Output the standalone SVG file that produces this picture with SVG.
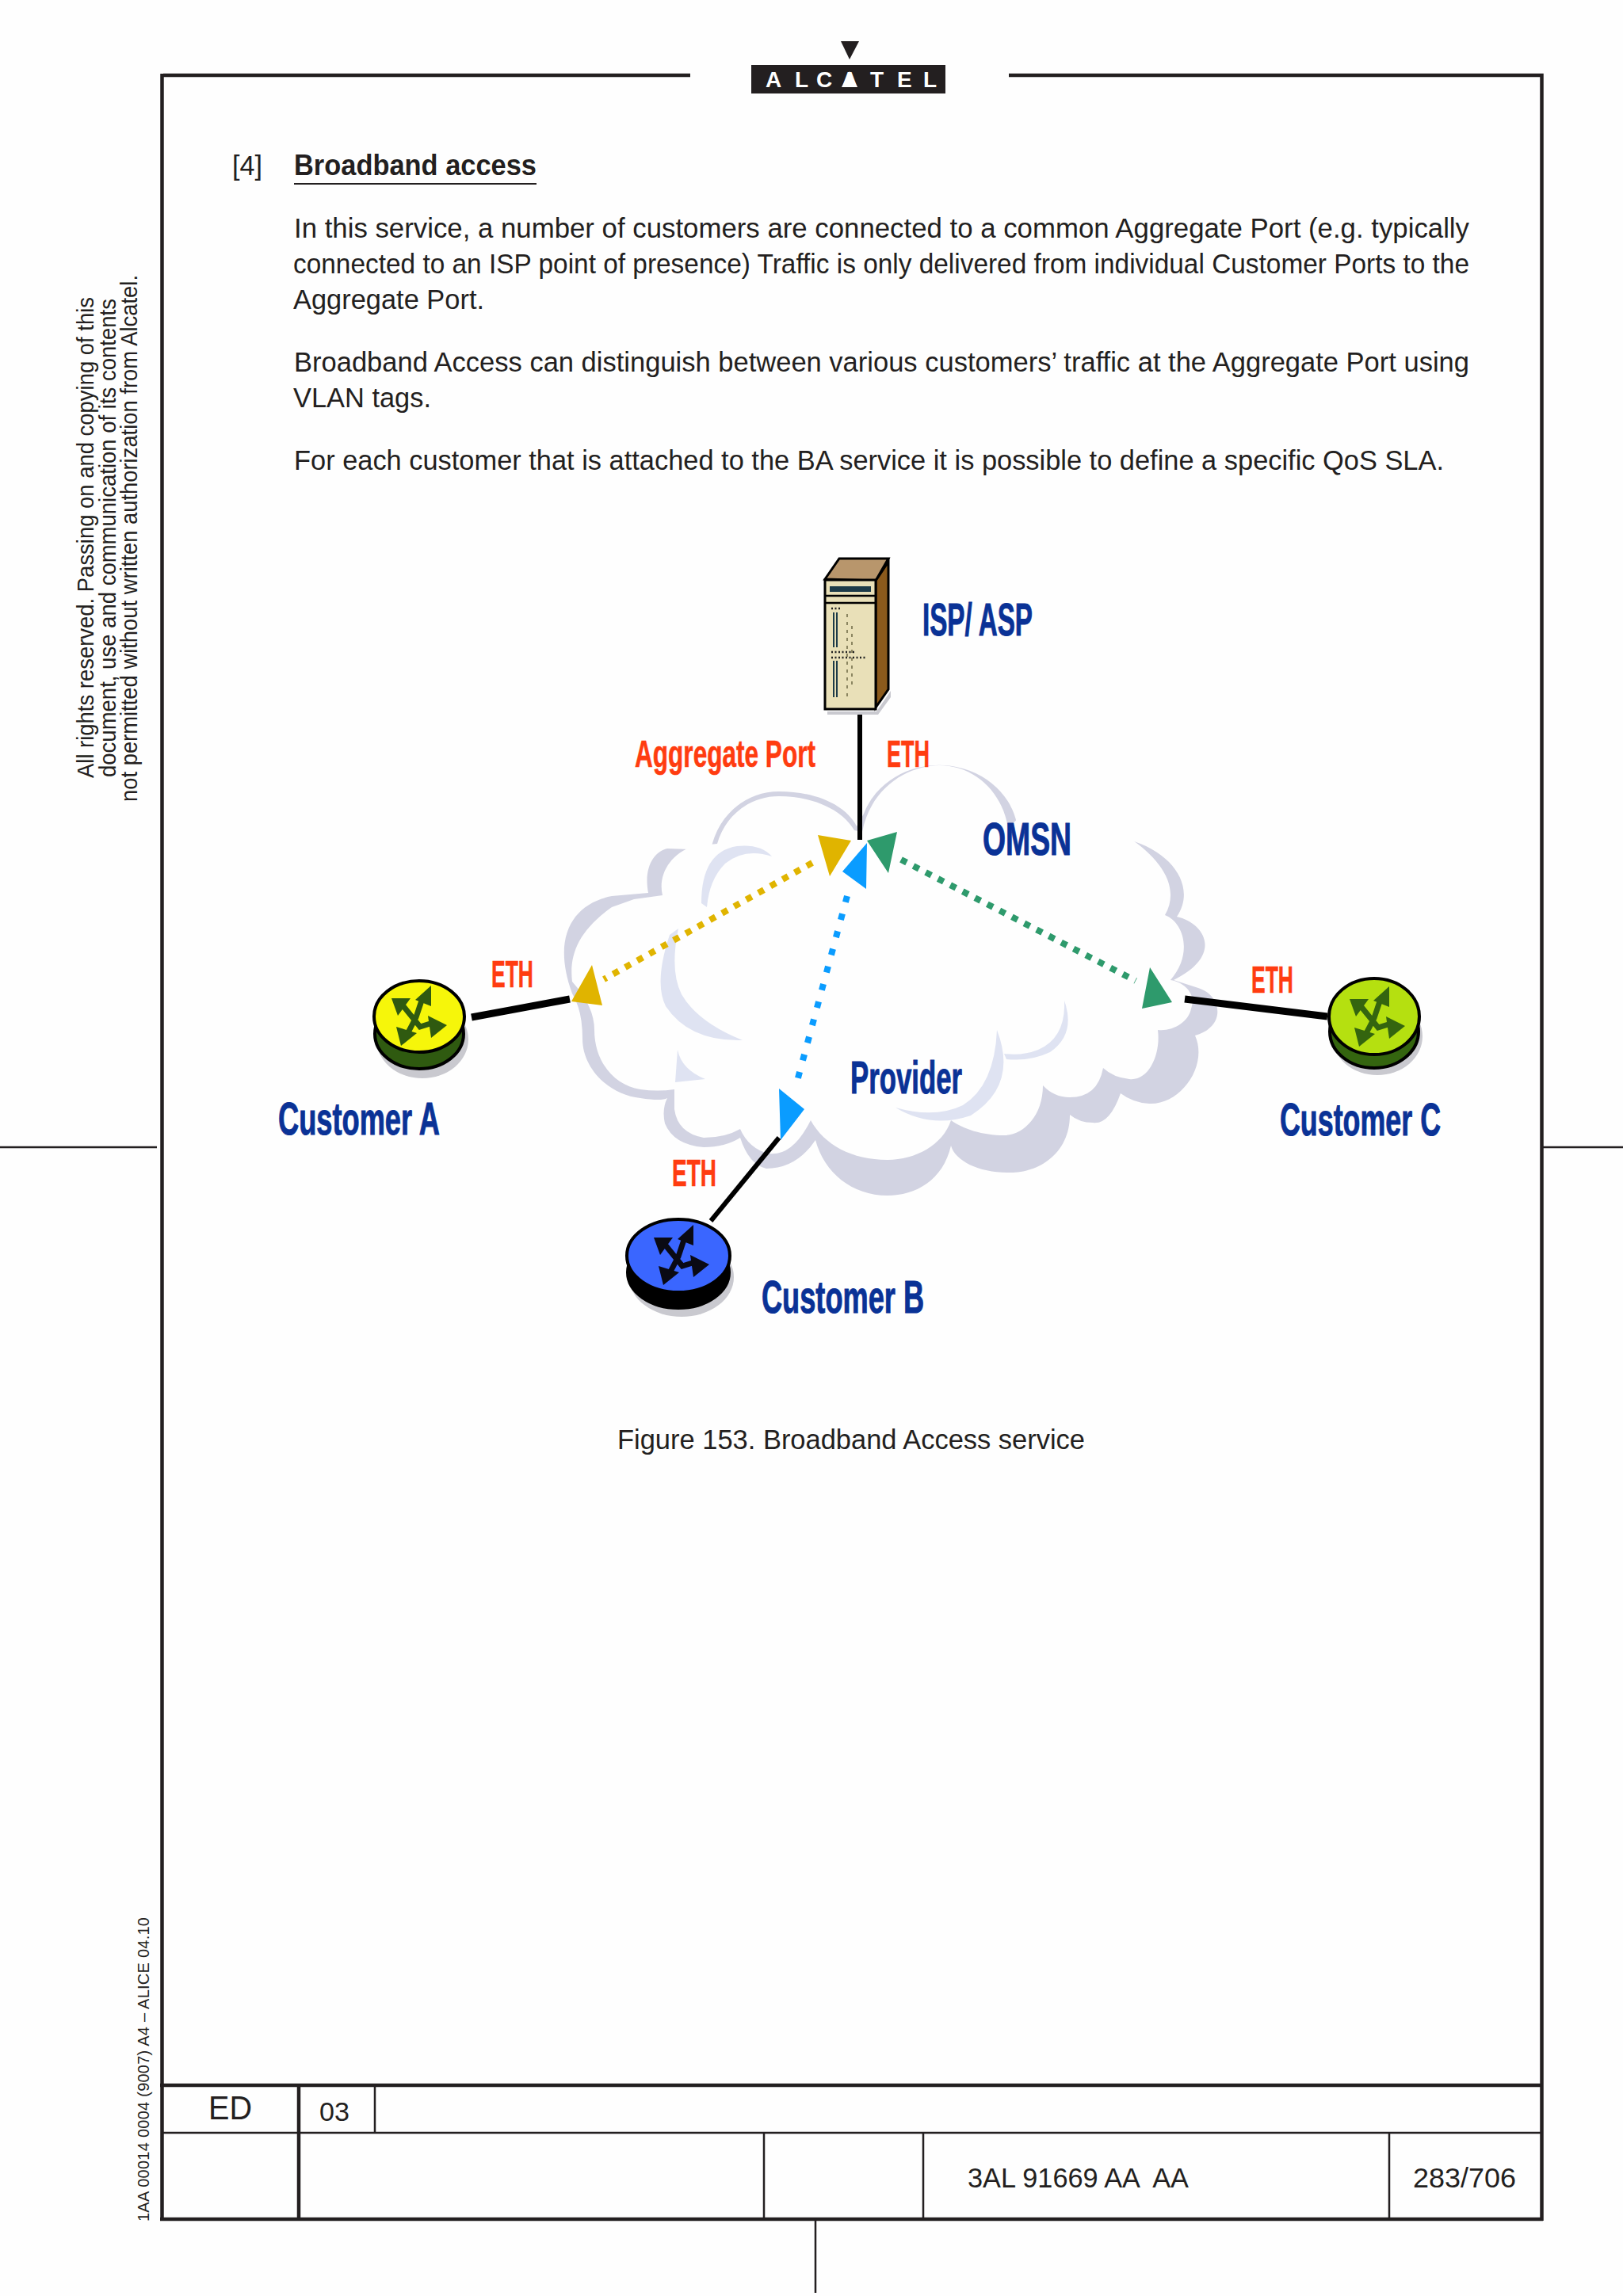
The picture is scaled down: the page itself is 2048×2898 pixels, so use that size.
<svg xmlns="http://www.w3.org/2000/svg" xmlns:xlink="http://www.w3.org/1999/xlink" width="2048" height="2898" viewBox="0 0 2048 2898">
<style>
text{font-family:"Liberation Sans",Arial,sans-serif;fill:#231f20}
.b{font-size:35.500px}
.h{font-size:36px;font-weight:700}
.s{font-size:30px}
.f{stroke:#231f20;fill:none;stroke-linecap:butt}
.th{stroke-width:4.5}
.tn{stroke-width:2.5}
.blue{font-weight:700;fill:#0a3296;stroke:#0a3296;stroke-width:1;font-size:57px}
.red{font-weight:700;fill:#ff3c10;stroke:#ff3c10;stroke-width:.6;font-size:48px}
.lk{stroke:#000;fill:none}
.dot{fill:none;stroke-width:8}
.rs{fill:#c9c9cf}
.edge{stroke:#000;stroke-width:4}
</style>
<defs>
<g id="xarrows">
<path d="M-15 -12L6 14L22 9M9 -22L1 2L-10 23" fill="none" stroke="currentColor" stroke-width="7"/>
<path d="M-30 -22L-6 -22L-22 0ZM20 -38L20 -12L0 -20ZM40 12L20 28L16 0ZM-18 38L-24 14L2 22Z" fill="currentColor"/>
</g>
</defs>
<rect width="2048" height="2898" fill="#fefefe"/>

<g id="page-frame">
<path class="f th" d="M871 95H206M204.500 93V2803M1273 95H1945.500V2803M202 2801H1947M202 2632H1947M377 2632V2801"/>
<path class="f tn" d="M204 2692H1945M473 2632V2692M964 2692V2801M1165 2692V2801M1753 2692V2801M1029 2801V2894M0 1448H198M1947 1448H2048"/>
</g>

<g id="logo">
<path d="M1061 52H1084L1072 75Z" fill="#231f20"/>
<rect x="948" y="82" width="245" height="36" fill="#231f20"/>
<text x="966 1003 1030 1062 1098 1132 1165" y="110" font-size="28" font-weight="700" style="fill:#fff">ALCATEL</text>
<path d="M1072 90L1082 110H1062Z" fill="#fff"/>
</g>

<g id="page-text">
<text x="293" y="221" class="b" textLength="38" lengthAdjust="spacingAndGlyphs">[4]</text>
<text x="371" y="221" class="h" textLength="306" lengthAdjust="spacingAndGlyphs">Broadband access</text>
<path d="M371 232H677" stroke="#231f20" stroke-width="2"/>
<text x="371" y="300" class="b" textLength="1483" lengthAdjust="spacingAndGlyphs">In this service, a number of customers are connected to a common Aggregate Port (e.g. typically</text>
<text x="370" y="345" class="b" textLength="1484" lengthAdjust="spacingAndGlyphs">connected to an ISP point of presence) Traffic is only delivered from individual Customer Ports to the</text>
<text x="370" y="390" class="b" textLength="241" lengthAdjust="spacingAndGlyphs">Aggregate Port.</text>
<text x="371" y="469" class="b" textLength="1483" lengthAdjust="spacingAndGlyphs">Broadband Access can distinguish between various customers’ traffic at the Aggregate Port using</text>
<text x="370" y="514" class="b" textLength="174" lengthAdjust="spacingAndGlyphs">VLAN tags.</text>
<text x="371" y="593" class="b" textLength="1451" lengthAdjust="spacingAndGlyphs">For each customer that is attached to the BA service it is possible to define a specific QoS SLA.</text>
<text x="779" y="1829" class="b" textLength="590" lengthAdjust="spacingAndGlyphs">Figure 153. Broadband Access service</text>
<text transform="translate(118 982) rotate(-90)" class="s" textLength="607" lengthAdjust="spacingAndGlyphs">All rights reserved. Passing on and copying of this</text>
<text transform="translate(146 981) rotate(-90)" class="s" textLength="604" lengthAdjust="spacingAndGlyphs">document, use and communication of its contents</text>
<text transform="translate(173 1012) rotate(-90)" class="s" textLength="665" lengthAdjust="spacingAndGlyphs">not permitted without written authorization from Alcatel.</text>
<text transform="translate(188 2804) rotate(-90)" font-size="20" textLength="384">1AA 00014 0004 (9007) A4 – ALICE 04.10</text>
<text x="263" y="2675" font-size="42" textLength="55" lengthAdjust="spacingAndGlyphs">ED</text>
<text x="403" y="2677" font-size="34" textLength="38" lengthAdjust="spacingAndGlyphs">03</text>
<text x="1221" y="2761" class="b" xml:space="preserve" textLength="279" lengthAdjust="spacingAndGlyphs">3AL 91669 AA  AA</text>
<text x="1783" y="2761" class="b" textLength="130" lengthAdjust="spacingAndGlyphs">283/706</text>
</g>

<g id="cloud-node">
<path fill="#d2d3e2" d="M1090 1027A100 90 0 0 1 1283 1039Q1360 1030 1424 1060C1480 1075 1510 1120 1485 1157C1520 1165 1545 1205 1481 1237L1512 1247C1540 1255 1550 1295 1508 1307C1525 1345 1490 1395 1450 1393Q1430 1392 1414 1380Q1400 1420 1379 1417Q1362 1417 1350 1407C1350 1460 1305 1482 1271 1480C1235 1480 1205 1465 1200 1446C1190 1490 1155 1509 1120 1509C1075 1509 1040 1480 1029 1439Q1005 1475 967 1475Q945 1470 934 1436Q915 1448 888 1448Q850 1445 839 1418Q835 1400 842 1386Q835 1390 808 1386C770 1382 735 1350 735 1311Q735 1275 722 1254C695 1180 725 1140 772 1131L818 1127C812 1095 825 1075 842 1071L897 1073C905 1030 940 999 983 999C1035 999 1070 1020 1081 1043Z"/>
<path fill="#fefefe" d="M1088 1050C1100 990 1150 966 1185 966C1230 966 1265 1000 1272 1045L1290 1028Q1360 1025 1426 1058C1465 1085 1490 1120 1470 1155C1495 1165 1505 1205 1477 1237C1495 1240 1510 1255 1503 1273C1500 1290 1480 1302 1461 1300C1465 1330 1450 1365 1425 1362Q1405 1360 1392 1348Q1385 1385 1350 1385Q1330 1385 1316 1370C1316 1410 1290 1433 1267 1433C1240 1433 1215 1425 1200 1414C1190 1445 1155 1464 1120 1464C1075 1464 1040 1445 1023 1414Q1000 1460 970 1456Q945 1450 934 1425Q915 1436 888 1436Q855 1430 851 1400L851 1375Q830 1378 808 1375C775 1370 750 1340 750 1300Q750 1270 722 1239C718 1205 730 1175 772 1145L800 1135L836 1130C830 1105 845 1078 875 1068L905 1065C915 1030 945 1005 983 1005C1030 1005 1065 1025 1078 1048Z"/>
<g fill="#dfe3f2">
<path d="M885 1140Q885 1075 930 1068Q960 1065 974 1081Q940 1070 915 1090Q895 1110 892 1145Z"/>
<path d="M845 1180Q825 1240 840 1270Q870 1315 937 1313Q880 1290 860 1255Q845 1225 856 1172Z"/>
<path d="M855 1325Q860 1350 890 1362L852 1366Z"/>
<path d="M1130 1398Q1180 1412 1215 1395Q1255 1370 1258 1300Q1285 1370 1225 1408Q1175 1425 1130 1398Z"/>
<path d="M1343 1263Q1345 1310 1310 1325Q1290 1333 1267 1330L1270 1337Q1300 1340 1325 1328Q1358 1305 1343 1263Z"/>
</g>
<text x="1240" y="1079" class="blue" textLength="112" lengthAdjust="spacingAndGlyphs">OMSN</text>
<text x="1073" y="1380" class="blue" textLength="141" lengthAdjust="spacingAndGlyphs">Provider</text>
</g>

<g id="connectors">
<path class="lk" stroke-width="6" d="M1085 900V1060"/>
<path class="lk" stroke-width="9" d="M595 1284L719 1261"/>
<path class="lk" stroke-width="9" d="M1495 1261L1675 1283"/>
<path class="lk" stroke-width="6" d="M983 1436L897 1541"/>
<path class="dot" stroke="#e0b400" stroke-dasharray="8 9.500" d="M1025 1089L762 1236"/>
<path d="M1032 1054L1074 1061L1047 1106ZM747 1218L721 1264L760 1269Z" fill="#e0b400"/>
<path class="dot" stroke="#2e9a6c" stroke-dasharray="8 9.500" d="M1137 1085L1433 1238"/>
<path d="M1094 1061L1132 1050L1121 1102ZM1451 1221L1441 1273L1479 1265Z" fill="#2e9a6c"/>
<path class="dot" stroke="#0a9cff" stroke-dasharray="8 15" d="M1069 1131L1005 1368"/>
<path d="M1094 1064L1063 1100L1093 1122ZM983 1374L1015 1400L985 1439Z" fill="#0a9cff"/>
<text x="801" y="968" class="red" textLength="228" lengthAdjust="spacingAndGlyphs">Aggregate Port</text>
<text x="1119" y="968" class="red" textLength="54" lengthAdjust="spacingAndGlyphs">ETH</text>
<text x="620" y="1246" class="red" textLength="53" lengthAdjust="spacingAndGlyphs">ETH</text>
<text x="848" y="1497" class="red" textLength="56" lengthAdjust="spacingAndGlyphs">ETH</text>
<text x="1579" y="1253" class="red" textLength="53" lengthAdjust="spacingAndGlyphs">ETH</text>
</g>

<g id="isp-asp">
<path d="M1044 898H1106L1124 872V880L1108 902H1044Z" fill="#c9c9cf"/>
<path d="M1041 731L1059 705H1121L1105 733Z" fill="#b8966c" stroke="#000" stroke-width="3"/>
<path d="M1105 733L1121 709V870L1105 893Z" fill="#8b5a1c" stroke="#000" stroke-width="3"/>
<rect x="1041" y="732" width="64" height="163" fill="#e9e0b8" stroke="#000" stroke-width="3"/>
<rect x="1047" y="740" width="52" height="7" fill="#1d3b48"/>
<path d="M1041 752H1105M1041 761H1105" stroke="#000" stroke-width="2.500"/>
<path d="M1052 773V817M1056 773V817M1052 834V880M1056 834V880" stroke="#1d3b48" stroke-width="2"/>
<path d="M1049 768H1062M1049 830H1092M1049 823H1078" stroke="#222" stroke-width="2.500" stroke-dasharray="2 2.500"/>
<path d="M1069 775V880M1075 790V870" stroke="#8b8560" stroke-width="2" stroke-dasharray="4 6"/>
<text x="1164" y="802" class="blue" textLength="139" lengthAdjust="spacingAndGlyphs">ISP/ ASP</text>
</g>

<g id="customer-a">
<ellipse class="rs" cx="533" cy="1312" rx="58" ry="49"/>
<ellipse class="edge" cx="529" cy="1305" rx="56" ry="44" fill="#2f5a10"/>
<ellipse class="edge" cx="529" cy="1283" rx="57" ry="45" fill="#f6f60a"/>
<use xlink:href="#xarrows" href="#xarrows" x="524" y="1282" style="color:#2f5a10"/>
<text x="351" y="1432" class="blue" textLength="204" lengthAdjust="spacingAndGlyphs">Customer A</text>
</g>

<g id="customer-b">
<ellipse class="rs" cx="860" cy="1612" rx="66" ry="50"/>
<ellipse class="edge" cx="856" cy="1606" rx="64" ry="45" fill="#000"/>
<ellipse class="edge" cx="856" cy="1585" rx="65" ry="46" fill="#3a66ff"/>
<use xlink:href="#xarrows" href="#xarrows" x="855" y="1584" style="color:#0a0a14"/>
<text x="961" y="1657" class="blue" textLength="205" lengthAdjust="spacingAndGlyphs">Customer B</text>
</g>

<g id="customer-c">
<ellipse class="rs" cx="1738" cy="1308" rx="57" ry="49"/>
<ellipse class="edge" cx="1734" cy="1302" rx="56" ry="46" fill="#34650f"/>
<ellipse class="edge" cx="1734" cy="1283" rx="57" ry="48" fill="#b5e010"/>
<use xlink:href="#xarrows" href="#xarrows" x="1733" y="1283" style="color:#34650f"/>
<text x="1615" y="1433" class="blue" textLength="203" lengthAdjust="spacingAndGlyphs">Customer C</text>
</g>
</svg>
